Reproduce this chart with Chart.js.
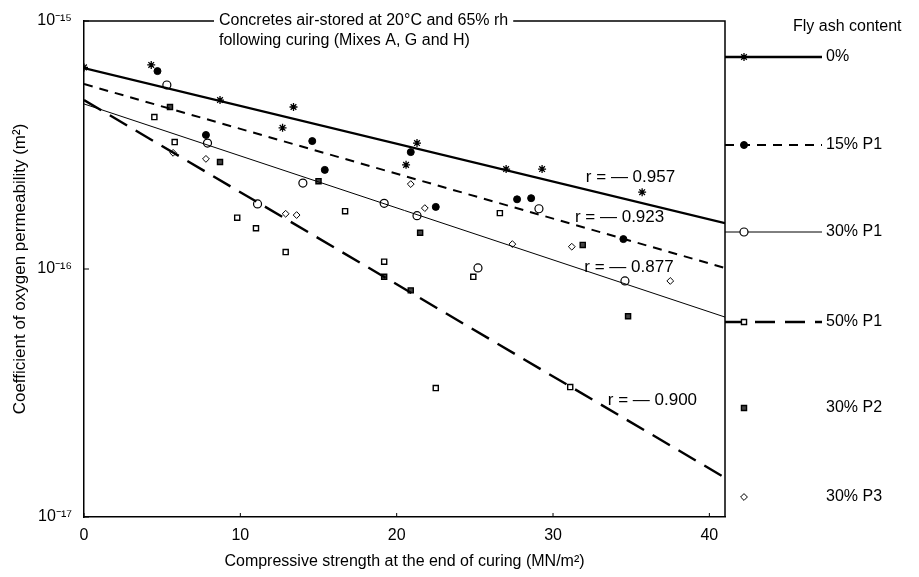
<!DOCTYPE html>
<html>
<head>
<meta charset="utf-8">
<script src="https://cdn.jsdelivr.net/npm/chart.js@4"></script>
<style>
  html, body { margin: 0; padding: 0; background: #fff; }
  #wrap { width: 919px; height: 577px; }
</style>
</head>
<body>
<div id="wrap"><canvas id="permChart" width="919" height="577"></canvas></div>
<script>
// Regression lines (x = strength, y = permeability)
const fitX = [0, 41];
const fit0 = [6.46e-16, 1.53e-16];
const fit15P1 = [5.57e-16, 1.01e-16];
const fit30P1 = [4.63e-16, 6.4e-17];
const fit50P1 = [4.8e-16, 1.44e-17];

const x0 = [0, 4.3, 8.7, 12.7, 13.4, 20.6, 21.3, 27.0, 29.3, 35.7];
const y0 = [6.5e-16, 6.65e-16, 4.8e-16, 3.71e-16, 4.5e-16, 2.63e-16, 3.22e-16, 2.53e-16, 2.53e-16, 2.04e-16];

const x15P1 = [4.7, 7.8, 14.6, 15.4, 20.9, 22.5, 27.7, 28.6, 34.5];
const y15P1 = [6.28e-16, 3.47e-16, 3.28e-16, 2.51e-16, 2.96e-16, 1.78e-16, 1.91e-16, 1.93e-16, 1.32e-16];

const x30P1 = [5.3, 7.9, 11.1, 14.0, 19.2, 21.3, 25.2, 29.1, 34.6];
const y30P1 = [5.52e-16, 3.22e-16, 1.83e-16, 2.22e-16, 1.84e-16, 1.64e-16, 1.01e-16, 1.75e-16, 8.95e-17];

const x50P1 = [4.5, 5.8, 9.8, 11.0, 12.9, 16.7, 19.2, 22.5, 24.9, 26.6, 31.1];
const y50P1 = [4.1e-16, 3.25e-16, 1.61e-16, 1.46e-16, 1.17e-16, 1.71e-16, 1.07e-16, 3.31e-17, 9.3e-17, 1.68e-16, 3.34e-17];

const x30P2 = [5.5, 8.7, 15.0, 19.2, 20.9, 21.5, 31.9, 34.8];
const y30P2 = [4.5e-16, 2.7e-16, 2.26e-16, 9.3e-17, 8.2e-17, 1.4e-16, 1.25e-16, 6.45e-17];

const x30P3 = [5.7, 7.8, 12.9, 13.6, 20.9, 21.8, 27.4, 31.2, 37.5];
const y30P3 = [2.94e-16, 2.78e-16, 1.67e-16, 1.65e-16, 2.2e-16, 1.76e-16, 1.26e-16, 1.23e-16, 8.95e-17];

// Correlation labels and where they sit (strength, permeability)
const rValues = ['0.957', '0.923', '0.877', '0.900'];
const rAtX = [32.1, 31.4, 32.0, 33.5];
const rAtY = [2.35e-16, 1.61e-16, 1.02e-16, 2.96e-17];

const legendLabels = ['0%', '15% P1', '30% P1', '50% P1', '30% P2', '30% P3'];
const xTicks = [0, 10, 20, 30, 40];
const yTicks = [1e-17, 1e-16, 1e-15];
const supers = { '-': '\u207B', '1': '\u00B9', '5': '\u2075', '6': '\u2076', '7': '\u2077' };

const FONT = '"Liberation Sans", Arial, sans-serif';

function pts(xs, ys) {
    return xs.map((v, i) => ({ x: v, y: ys[i] }));
}

function fitLine(label, ys, width, dash) {
    return {
        label: label,
        data: pts(fitX, ys),
        showLine: true,
        borderColor: '#000',
        borderWidth: width,
        borderDash: dash,
        pointRadius: 0,
        fill: false
    };
}

const lineStyles = [
    { width: 2.4, dash: [] },
    { width: 2, dash: [9, 7] },
    { width: 1, dash: [] },
    { width: 2.4, dash: [20, 10] }
];
const markerStyles = [
    { pointStyle: 'star', radius: 4, bg: '#000', borderWidth: 1.3 },
    { pointStyle: 'circle', radius: 3.5, bg: '#000', borderWidth: 1 },
    { pointStyle: 'circle', radius: 4, bg: '#fff', borderWidth: 1.2 },
    { pointStyle: 'rect', radius: 3.6, bg: '#fff', borderWidth: 1.4 },
    { pointStyle: 'rect', radius: 3.6, bg: '#444', borderWidth: 1.4 },
    { pointStyle: 'rectRot', radius: 3.4, bg: '#fff', borderWidth: 1 }
];

function marks(label, xs, ys, k) {
    const m = markerStyles[k];
    return {
        label: label,
        data: pts(xs, ys),
        showLine: false,
        pointStyle: m.pointStyle,
        pointRadius: m.radius,
        pointBackgroundColor: m.bg,
        pointBorderColor: '#000',
        pointBorderWidth: m.borderWidth
    };
}

// frame, ticks, title text, r labels and the side legend
const decorations = {
    id: 'decorations',
    afterDraw(chart) {
        const ctx = chart.ctx;
        const a = chart.chartArea;
        const xs = chart.scales.x, ys = chart.scales.y;
        ctx.save();
        ctx.strokeStyle = '#000';
        ctx.fillStyle = '#000';

        // caption on the top border
        ctx.font = '16px ' + FONT;
        ctx.textBaseline = 'middle';
        ctx.textAlign = 'left';
        const cap1 = 'Concretes air-stored at 20\u00B0C and 65% rh';
        const cap2 = 'following curing (Mixes A, G and H)';
        const capX = 219;
        const capW = ctx.measureText(cap1).width;
        ctx.fillText(cap1, capX, a.top);
        ctx.fillText(cap2, capX, a.top + 20);

        ctx.lineWidth = 1.5;
        ctx.beginPath();
        ctx.moveTo(a.left, a.top);
        ctx.lineTo(capX - 5, a.top);
        ctx.moveTo(capX + capW + 5, a.top);
        ctx.lineTo(a.right, a.top);
        ctx.lineTo(a.right, a.bottom);
        ctx.stroke();

        // inward tick marks
        ctx.lineWidth = 1;
        ctx.beginPath();
        yTicks.forEach(v => {
            const py = ys.getPixelForValue(v);
            ctx.moveTo(a.left, py);
            ctx.lineTo(a.left + 5, py);
        });
        xTicks.forEach(v => {
            const px = xs.getPixelForValue(v);
            ctx.moveTo(px, a.bottom);
            ctx.lineTo(px, a.bottom - 4);
        });
        ctx.stroke();

        // r labels
        ctx.font = '17px ' + FONT;
        rValues.forEach((r, i) => {
            const px = xs.getPixelForValue(rAtX[i]);
            const py = ys.getPixelForValue(rAtY[i]);
            ctx.fillText('r = \u2014 ' + r, px, py);
        });

        // legend on the right
        ctx.font = '16px ' + FONT;
        const legY = [57, 145, 232, 322, 408, 497];
        const lx0 = a.right, lx1 = a.right + 97, mx = a.right + 19, tx = a.right + 101;
        ctx.fillText('Fly ash content', a.right + 68, 27);
        legendLabels.forEach((lab, i) => {
            const y = legY[i];
            if (i < lineStyles.length) {
                ctx.lineWidth = lineStyles[i].width;
                ctx.setLineDash(lineStyles[i].dash);
                ctx.beginPath();
                ctx.moveTo(lx0, y);
                ctx.lineTo(lx1, y);
                ctx.stroke();
                ctx.setLineDash([]);
            }
            const m = markerStyles[i];
            ctx.fillStyle = m.bg;
            ctx.strokeStyle = '#000';
            ctx.lineWidth = m.borderWidth;
            Chart.helpers.drawPoint(ctx, {
                pointStyle: m.pointStyle, radius: m.radius,
                borderWidth: m.borderWidth, rotation: 0
            }, mx, y);
            ctx.fillStyle = '#000';
            ctx.fillText(lab, tx, y);
        });
        ctx.restore();
    }
};

const ctx = document.getElementById('permChart').getContext('2d');
const chart = new Chart(ctx, {
    type: 'scatter',
    data: {
        datasets: [
            fitLine('fit 0%', fit0, lineStyles[0].width, lineStyles[0].dash),
            fitLine('fit 15% P1', fit15P1, lineStyles[1].width, lineStyles[1].dash),
            fitLine('fit 30% P1', fit30P1, lineStyles[2].width, lineStyles[2].dash),
            fitLine('fit 50% P1', fit50P1, lineStyles[3].width, lineStyles[3].dash),
            marks('0%', x0, y0, 0),
            marks('15% P1', x15P1, y15P1, 1),
            marks('30% P1', x30P1, y30P1, 2),
            marks('50% P1', x50P1, y50P1, 3),
            marks('30% P2', x30P2, y30P2, 4),
            marks('30% P3', x30P3, y30P3, 5)
        ]
    },
    options: {
        responsive: false,
        animation: false,
        layout: { padding: { left: 0, right: 194, top: 21, bottom: 0 } },
        plugins: {
            legend: { display: false },
            tooltip: { enabled: false }
        },
        scales: {
            x: {
                type: 'linear',
                min: 0,
                max: 41,
                afterBuildTicks: s => { s.ticks = xTicks.map(v => ({ value: v })); },
                afterFit: s => { s.height = 60; },
                grid: { display: false },
                border: { display: true, color: '#000', width: 1.5 },
                ticks: { color: '#000', font: { family: FONT, size: 16 }, padding: 1, maxRotation: 0 },
                title: {
                    display: true,
                    text: 'Compressive strength at the end of curing (MN/m\u00B2)',
                    color: '#000',
                    font: { family: FONT, size: 16 },
                    padding: { top: 0, bottom: 6 }
                }
            },
            y: {
                type: 'logarithmic',
                min: 1e-17,
                max: 1e-15,
                afterBuildTicks: s => { s.ticks = yTicks.map(v => ({ value: v })); },
                afterFit: s => { s.width = 84; },
                grid: { display: false },
                border: { display: true, color: '#000', width: 1.5 },
                ticks: {
                    color: '#000',
                    font: { family: FONT, size: 16 },
                    padding: 4,
                    callback: v => {
                        const e = String(Math.round(Math.log10(v)));
                        return '10' + e.split('').map(c => supers[c] || c).join('');
                    }
                },
                title: {
                    display: true,
                    text: 'Coefficient of oxygen permeability (m\u00B2)',
                    color: '#000',
                    font: { family: FONT, size: 17 },
                    padding: { top: 10, bottom: 4 }
                }
            }
        }
    },
    plugins: [decorations]
});
</script>
</body>
</html>
